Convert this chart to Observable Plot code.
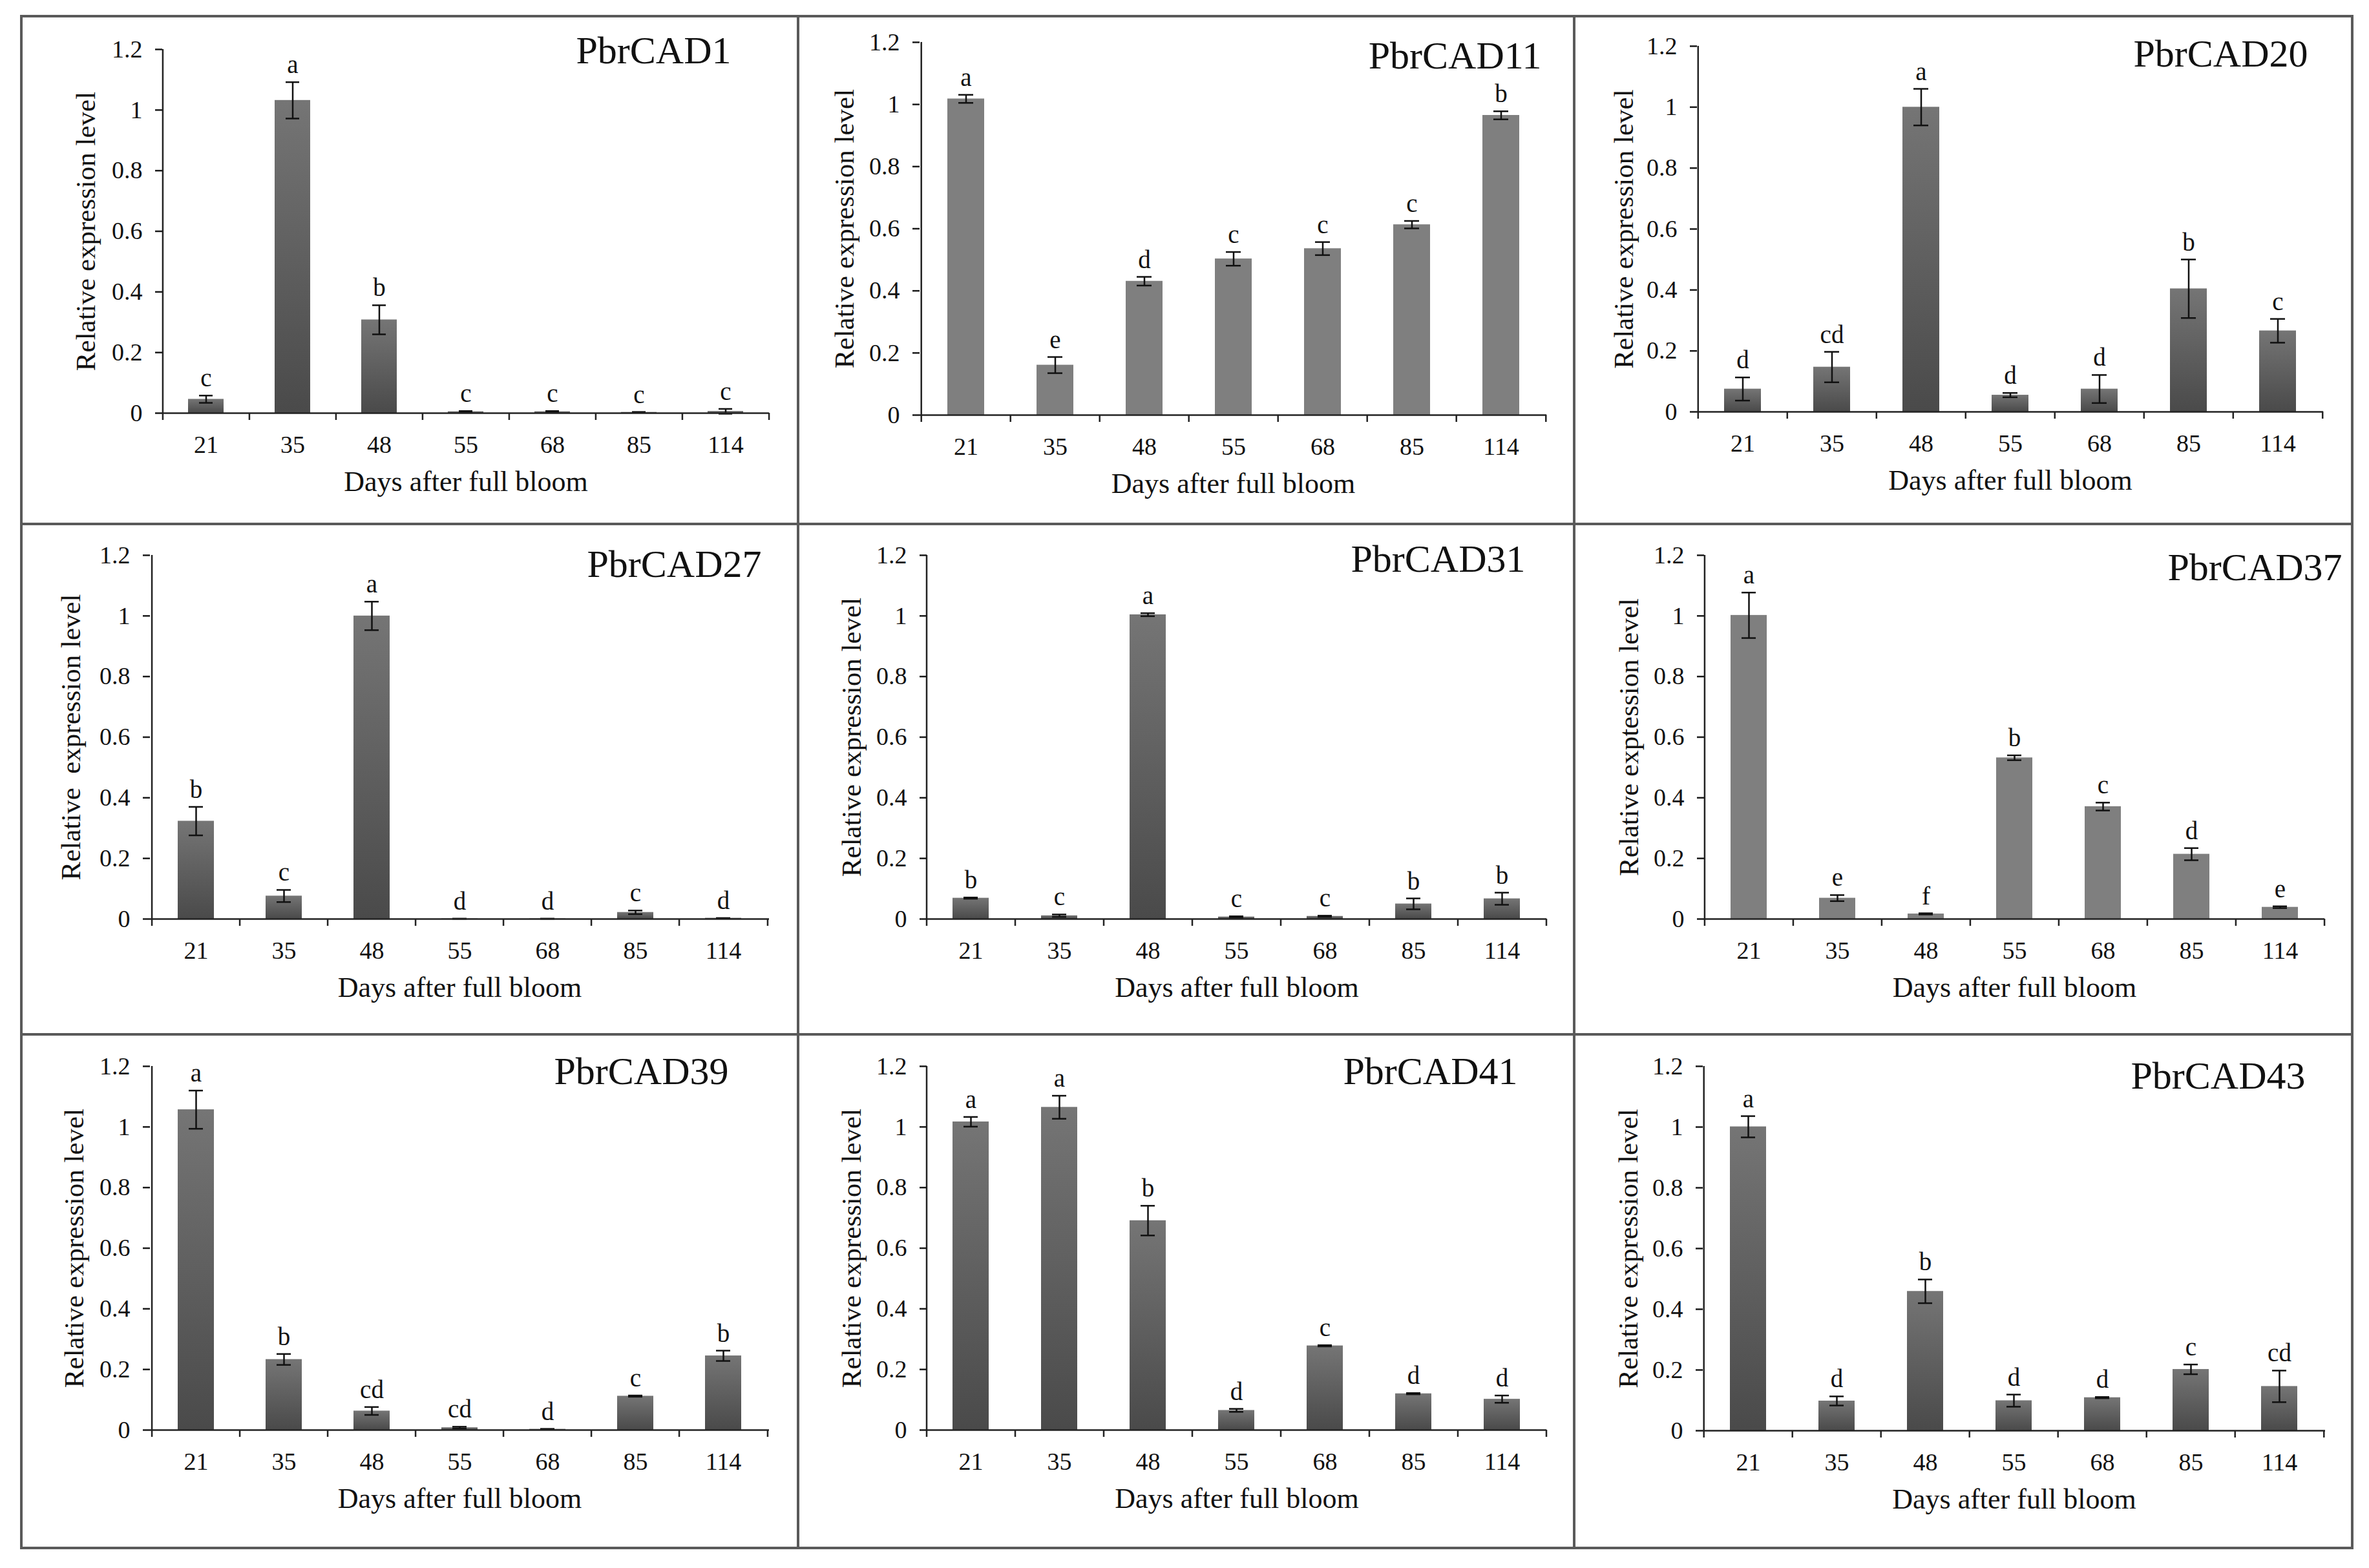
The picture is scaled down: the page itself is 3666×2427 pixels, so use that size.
<!DOCTYPE html>
<html>
<head>
<meta charset="utf-8">
<script src="https://cdn.jsdelivr.net/npm/d3@7"></script>
<script src="https://cdn.jsdelivr.net/npm/@observablehq/plot@0.6"></script>
<style>
  html, body { margin: 0; padding: 0; background: #fff; }
  body { width: 3666px; height: 2427px; position: relative; overflow: hidden; }
  #grid {
    position: absolute; left: 31px; top: 23px;
    display: grid;
    grid-template-columns: 1198px 1197px 1200px;
    grid-template-rows: 782px 786px 791px;
    gap: 4px; padding: 4px; background: #5a5a5a;
  }
  .cell { background: #fff; overflow: hidden; }
  .cell svg { display: block; }
</style>
</head>
<body>
<svg width="0" height="0" style="position:absolute">
  <defs>
    <linearGradient id="barShade" x1="0" y1="0" x2="0" y2="1">
      <stop offset="0" stop-color="#757575"/>
      <stop offset="1" stop-color="#4a4a4a"/>
    </linearGradient>
  </defs>
</svg>
<div id="grid"></div>
<script>
// days after full bloom (categories)
const days = ["21", "35", "48", "55", "68", "85", "114"];

const genes = ["PbrCAD1", "PbrCAD11", "PbrCAD20", "PbrCAD27", "PbrCAD31",
               "PbrCAD37", "PbrCAD39", "PbrCAD41", "PbrCAD43"];

// y axis titles as printed (typos kept)
const yTitles = [
  "Relative expression level", "Relative expression level", "Relative expression level",
  "Relative  expression level", "Relative expression level", "Relative exptession level",
  "Relative expression level", "Relative expression level", "Relative expression level"
];

const xTitle = "Days after full bloom";
const yTicks = [0, 0.2, 0.4, 0.6, 0.8, 1, 1.2];

// relative expression, one row per gene
const means = [
  [0.046, 1.032, 0.308, 0.005, 0.005, 0.003, 0.006],
  [1.018, 0.161, 0.431, 0.503, 0.536, 0.613, 0.965],
  [0.075, 0.147, 1.000, 0.055, 0.075, 0.404, 0.266],
  [0.323, 0.076, 1.000, 0.001, 0.001, 0.022, 0.003],
  [0.069, 0.011, 1.004, 0.007, 0.009, 0.050, 0.067],
  [1.002, 0.069, 0.017, 0.532, 0.371, 0.214, 0.039],
  [1.057, 0.233, 0.063, 0.008, 0.003, 0.112, 0.245],
  [1.017, 1.065, 0.691, 0.065, 0.278, 0.120, 0.102],
  [1.001, 0.098, 0.459, 0.099, 0.109, 0.202, 0.146]
];

// error bar half-lengths
const errors = [
  [0.012, 0.060, 0.048, 0.002, 0.002, 0.001, 0.008],
  [0.013, 0.026, 0.014, 0.022, 0.021, 0.012, 0.013],
  [0.038, 0.050, 0.060, 0.007, 0.046, 0.096, 0.039],
  [0.047, 0.020, 0.047, 0.000, 0.000, 0.006, 0.000],
  [0.002, 0.004, 0.005, 0.002, 0.002, 0.018, 0.020],
  [0.075, 0.010, 0.002, 0.008, 0.013, 0.020, 0.003],
  [0.063, 0.018, 0.013, 0.003, 0.001, 0.002, 0.017],
  [0.016, 0.038, 0.049, 0.005, 0.002, 0.002, 0.012],
  [0.035, 0.015, 0.039, 0.020, 0.002, 0.016, 0.052]
];

// significance letters
const letters = [
  ["c", "a", "b", "c", "c", "c", "c"],
  ["a", "e", "d", "c", "c", "c", "b"],
  ["d", "cd", "a", "d", "d", "b", "c"],
  ["b", "c", "a", "d", "d", "c", "d"],
  ["b", "c", "a", "c", "c", "b", "b"],
  ["a", "e", "f", "b", "c", "d", "e"],
  ["a", "b", "cd", "cd", "d", "c", "b"],
  ["a", "a", "b", "d", "c", "d", "d"],
  ["a", "d", "b", "d", "d", "c", "cd"]
];

// ---- styling / layout (not data) ----
const flatBars = ["PbrCAD11", "PbrCAD37"];
const serif = "'Liberation Serif', 'Times New Roman', Times, serif";
// per panel: margins, y-title offset, gene title nudges
const frames = [
  {ml: 216, mr: 43, mt: 49, mb: 170, yt: 105, tx: -59, ty: 21},
  {ml: 186, mr: 41, mt: 38, mb: 167, yt: 103, tx: -8,  ty: 40},
  {ml: 188, mr: 43, mt: 44, mb: 172, yt: 100, tx: -24, ty: 31},
  {ml: 197, mr: 43, mt: 46, mb: 177, yt: 109, tx: -12, ty: 33},
  {ml: 197, mr: 41, mt: 46, mb: 177, yt: 103, tx: -33, ty: 25},
  {ml: 199, mr: 41, mt: 46, mb: 177, yt: 103, tx: 27,  ty: 38},
  {ml: 197, mr: 43, mt: 47, mb: 181, yt: 104, tx: -63, ty: 27},
  {ml: 197, mr: 41, mt: 47, mb: 181, yt: 103, tx: -45, ty: 27},
  {ml: 197, mr: 40, mt: 47, mb: 180, yt: 102, tx: -31, ty: 34}
];

const grid = document.getElementById("grid");

genes.forEach((gene, g) => {
  const f = frames[g];
  const cell = document.createElement("div");
  cell.className = "cell";
  grid.appendChild(cell);
  const width = cell.clientWidth, height = cell.clientHeight;

  const rows = days.map((day, i) => ({
    day, mean: means[g][i], err: errors[g][i], sig: letters[g][i]
  }));

  const plotH = height - f.mt - f.mb;
  const step = (width - f.ml - f.mr) / days.length;
  const tickLen = 11 * 1.2 / plotH;   // 11px tick expressed in y units
  const fill = flatBars.includes(gene) ? "#7f7f7f" : "url(#barShade)";

  const chart = Plot.plot({
    width, height,
    marginLeft: f.ml, marginRight: f.mr, marginTop: f.mt, marginBottom: f.mb,
    style: {fontFamily: serif, fontSize: "38px", color: "#1a1a1a", background: "white", overflow: "visible"},
    x: {domain: days, paddingInner: 0.59, paddingOuter: 0.295},
    y: {domain: [0, 1.2]},
    marks: [
      Plot.barY(rows, {x: "day", y: "mean", fill}),
      // error bars
      Plot.ruleX(rows, {x: "day", y1: d => d.mean - d.err, y2: d => d.mean + d.err, stroke: "#111", strokeWidth: 2.5}),
      Plot.tickY(rows, {x: "day", y: d => d.mean + d.err, stroke: "#111", strokeWidth: 2.5, insetLeft: 17, insetRight: 17}),
      Plot.tickY(rows, {x: "day", y: d => d.mean - d.err, stroke: "#111", strokeWidth: 2.5, insetLeft: 17, insetRight: 17}),
      // significance letters
      Plot.text(rows, {x: "day", y: d => d.mean + d.err, text: "sig", dy: -14, lineAnchor: "bottom", fontSize: 39, fill: "#111"}),
      // axis lines
      Plot.ruleY([0], {stroke: "#222", strokeWidth: 2.5}),
      Plot.ruleX([days[0]], {x: d => d, y1: 0, y2: 1.2, dx: -step / 2, stroke: "#222", strokeWidth: 2.5}),
      // category boundary ticks (Excel style)
      Plot.ruleX(days, {x: d => d, y1: 0, y2: -tickLen, dx: -step / 2, stroke: "#222", strokeWidth: 2.5}),
      Plot.ruleX([days[days.length - 1]], {x: d => d, y1: 0, y2: -tickLen, dx: step / 2, stroke: "#222", strokeWidth: 2.5}),
      Plot.axisX({tickSize: 0, tickPadding: 35, label: null, fill: "#111"}),
      Plot.axisY({ticks: yTicks, tickSize: 11, tickPadding: 20, strokeWidth: 2.5, label: null,
                  tickFormat: d => String(+d.toFixed(1)), fill: "#111"}),
      // titles
      Plot.text([yTitles[g]], {text: d => d, frameAnchor: "left", rotate: -90, dx: -f.yt,
                               lineAnchor: "bottom", textAnchor: "middle", fontSize: 43, fill: "#111"}),
      Plot.text([xTitle], {text: d => d, frameAnchor: "bottom", dy: 120, lineAnchor: "bottom",
                           fontSize: 44, fill: "#111"}),
      Plot.text([gene], {text: d => d, frameAnchor: "top-right", dx: f.tx, dy: f.ty,
                         textAnchor: "end", lineAnchor: "bottom", fontSize: 60, fill: "#111"})
    ]
  });
  cell.appendChild(chart);
});
</script>
</body>
</html>
